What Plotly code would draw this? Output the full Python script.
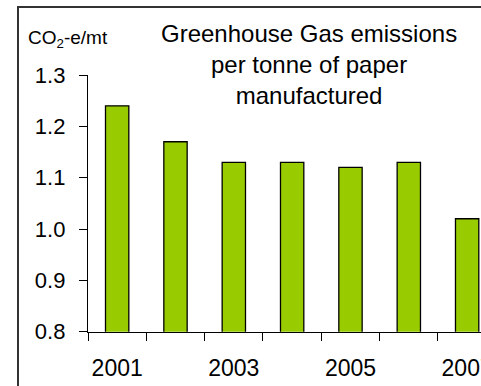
import plotly.graph_objects as go

# Greenhouse gas intensity of paper production, CO2-e per tonne
years = [2001, 2002, 2003, 2004, 2005, 2006, 2007]
emissions = [1.24, 1.17, 1.13, 1.13, 1.12, 1.13, 1.02]
label_years = [2001, 2003, 2005, 2007]
y_ticks = [0.8, 0.9, 1.0, 1.1, 1.2, 1.3]
y_tick_text = ["0.8", "0.9", "1.0", "1.1", "1.2", "1.3"]

W, H = 481, 386
# the paper area begins just inside the outer frame lines
FL, FT = 19, 8
paper_w = W - FL
paper_h = H - FT
# plot area in pixels
PX0, PY0, PY1 = 88, 75, 331.7
cat_px = 58.33  # pixels per year


def px_x(p):
    return (p - FL) / paper_w


def px_y(p):
    return (H - p) / paper_h


FONT = "Arial, Liberation Sans, sans-serif"

fig = go.Figure()

fig.add_trace(
    go.Bar(
        x=years,
        y=emissions,
        width=0.4,
        marker=dict(color="#99CC00", line=dict(color="black", width=1.3)),
        hoverinfo="skip",
    )
)

# white anchor trace in a blank corner so the full-page frame axes get drawn
fig.add_trace(
    go.Scatter(
        x=[0.01, 0.02],
        y=[0.01, 0.01],
        mode="lines",
        line=dict(color="white", width=1),
        xaxis="x2",
        yaxis="y2",
        hoverinfo="skip",
    )
)

x_right = years[0] - 0.5 + (W - PX0) / cat_px

# outer chart frame: left and top edges drawn as axis lines
frame_axis = dict(
    domain=[0, 1],
    range=[0, 1],
    showgrid=False,
    zeroline=False,
    fixedrange=True,
    automargin=False,
    showline=True,
    linecolor="#333333",
    linewidth=1.5,
    ticks="",
    showticklabels=False,
)

fig.update_layout(
    template="none",
    width=W,
    height=H,
    margin=dict(l=FL, r=0, t=FT, b=0, pad=0),
    paper_bgcolor="white",
    plot_bgcolor="rgba(0,0,0,0)",
    showlegend=False,
    font=dict(family=FONT, color="black"),
    xaxis=dict(
        domain=[px_x(PX0), 1],
        range=[years[0] - 0.5, x_right],
        automargin=False,
        tickvals=label_years,
        ticktext=[str(y) for y in label_years],
        ticks="",
        tickfont=dict(size=23),
        ticklabelstandoff=16,
        ticklabeloverflow="allow",
        showline=True,
        linecolor="black",
        linewidth=1.3,
        showgrid=False,
        zeroline=False,
        minor=dict(
            tickvals=[y - 0.5 for y in years] + [years[-1] + 0.5],
            ticks="outside",
            ticklen=8,
            tickwidth=1.3,
            tickcolor="black",
            showgrid=False,
        ),
    ),
    yaxis=dict(
        domain=[px_y(PY1), px_y(PY0)],
        range=[0.8, 1.3],
        automargin=False,
        tickvals=y_ticks,
        ticktext=y_tick_text,
        ticks="outside",
        ticklen=8,
        tickwidth=1.3,
        tickcolor="black",
        tickfont=dict(size=22),
        ticklabelstandoff=9,
        showline=True,
        linecolor="black",
        linewidth=1.3,
        showgrid=False,
        zeroline=False,
    ),
    xaxis2=dict(frame_axis, anchor="y2", side="top"),
    yaxis2=dict(frame_axis, anchor="x2", side="left"),
)

# chart title
fig.add_annotation(
    text="Greenhouse Gas emissions<br>per tonne of paper<br>manufactured",
    xref="paper",
    yref="paper",
    x=px_x(309),
    y=px_y(64),
    xanchor="center",
    yanchor="middle",
    showarrow=False,
    font=dict(size=24, family=FONT, color="black"),
)

# units label above the value axis
fig.add_annotation(
    text="CO<sub>2</sub>-e/mt",
    xref="paper",
    yref="paper",
    x=px_x(26),
    y=px_y(25),
    xanchor="left",
    yanchor="top",
    showarrow=False,
    font=dict(size=19, family=FONT, color="black"),
)

# keep overflowing tick text inside the figure box
clip_js = """
document.querySelectorAll('.plotly-graph-div').forEach(function (d) {
  d.style.overflow = 'hidden';
  d.querySelectorAll('.main-svg').forEach(function (s) { s.style.overflow = 'hidden'; });
});
document.body.style.overflow = 'hidden';
"""

fig.write_html("out.html", post_script=clip_js)
